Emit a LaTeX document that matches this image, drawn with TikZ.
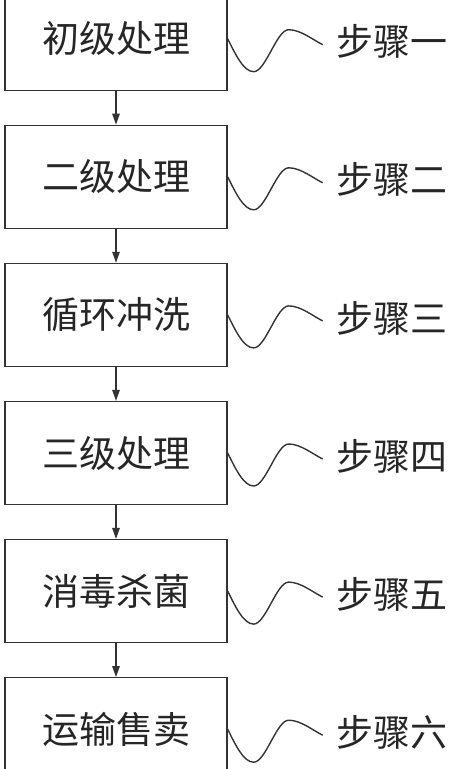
\documentclass[tikz,border=0pt]{standalone}
\usepackage{fontspec}
\newfontfamily\cjk{Noto Sans CJK SC}
\usetikzlibrary{arrows.meta,positioning}
\definecolor{ink}{HTML}{333333}
\tikzset{stage/.style={draw=ink,line width=1.3pt,minimum width=222pt,minimum height=103pt,inner sep=0pt,font=\cjk\fontsize{37}{40}\selectfont,text=black!85}, tag/.style={inner sep=0pt,font=\cjk\fontsize{37}{40}\selectfont,text=black!85}, flow/.style={-{Triangle[length=11pt,width=7.5pt]},line width=1.3pt,draw=ink}, squiggle/.style={line width=1.4pt,draw=ink}}

\begin{document}
\begin{tikzpicture}[x=1pt,y=-1pt,node distance=33.8pt]
\useasboundingbox (0,0) rectangle (453,769);
\node[stage] (s1) at (116,38.7) {初级处理};
\node[stage,below=of s1] (s2) {二级处理};
\node[stage,below=of s2] (s3) {循环冲洗};
\node[stage,below=of s3] (s4) {三级处理};
\node[stage,below=of s4] (s5) {消毒杀菌};
\node[stage,below=of s5] (s6) {运输售卖};
\node[tag,right=109pt of s1,yshift=-3pt] (t1) {步骤一};
\node[tag,right=109pt of s2,yshift=-3pt] (t2) {步骤二};
\node[tag,right=109pt of s3,yshift=-3pt] (t3) {步骤三};
\node[tag,right=109pt of s4,yshift=-3pt] (t4) {步骤四};
\node[tag,right=109pt of s5,yshift=-3pt] (t5) {步骤五};
\node[tag,right=109pt of s6,yshift=-3pt] (t6) {步骤六};
\draw[flow] (s1)--(s2);\draw[flow] (s2)--(s3);\draw[flow] (s3)--(s4);\draw[flow] (s4)--(s5);\draw[flow] (s5)--(s6);
\draw[squiggle] (s1.east) .. controls +(8,16) and +(-10,0) .. ++(26,33) .. controls +(12,0) and +(-12,0) .. ++(35,-42) .. controls +(12,0) and +(-10,-5) .. ++(34,15);
\draw[squiggle] (s2.east) .. controls +(8,16) and +(-10,0) .. ++(26,33) .. controls +(12,0) and +(-12,0) .. ++(35,-42) .. controls +(12,0) and +(-10,-5) .. ++(34,15);
\draw[squiggle] (s3.east) .. controls +(8,16) and +(-10,0) .. ++(26,33) .. controls +(12,0) and +(-12,0) .. ++(35,-42) .. controls +(12,0) and +(-10,-5) .. ++(34,15);
\draw[squiggle] (s4.east) .. controls +(8,16) and +(-10,0) .. ++(26,33) .. controls +(12,0) and +(-12,0) .. ++(35,-42) .. controls +(12,0) and +(-10,-5) .. ++(34,15);
\draw[squiggle] (s5.east) .. controls +(8,16) and +(-10,0) .. ++(26,33) .. controls +(12,0) and +(-12,0) .. ++(35,-42) .. controls +(12,0) and +(-10,-5) .. ++(34,15);
\draw[squiggle] (s6.east) .. controls +(8,16) and +(-10,0) .. ++(26,33) .. controls +(12,0) and +(-12,0) .. ++(35,-42) .. controls +(12,0) and +(-10,-5) .. ++(34,15);
\end{tikzpicture}
\end{document}
